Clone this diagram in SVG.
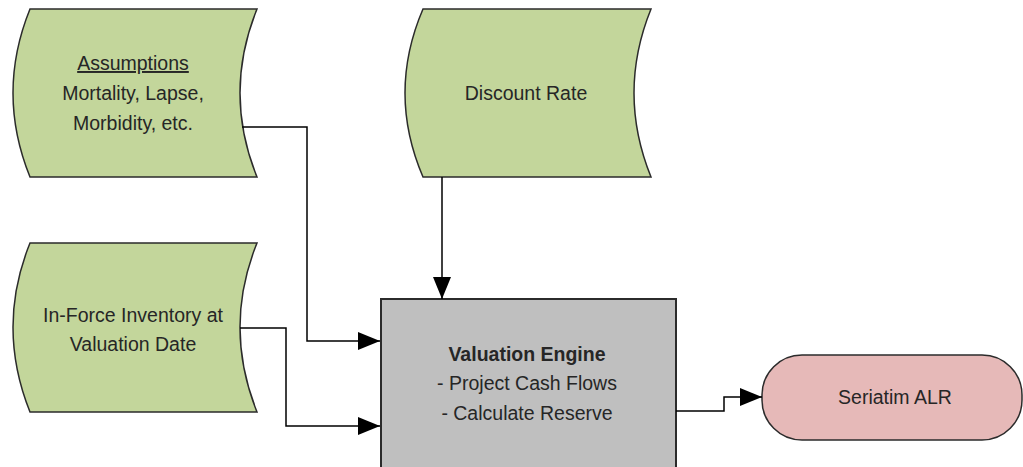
<svg xmlns="http://www.w3.org/2000/svg" width="1023" height="467" viewBox="0 0 1023 467">
<defs>
<style>
.green{fill:#c3d69b;stroke:#2b2b2b;stroke-width:1.5}
.grey{fill:#bfbfbf;stroke:#2b2b2b;stroke-width:2}
.pink{fill:#e6b9b8;stroke:#2b2b2b;stroke-width:1.5}
.t{font-family:"Liberation Sans",Arial,sans-serif;font-size:19.5px;fill:#262626;text-anchor:middle}
.b{font-weight:bold}
.c{fill:none;stroke:#000;stroke-width:1.5}
</style>
<marker id="ah" viewBox="0 0 22 18" refX="22" refY="9" markerWidth="22" markerHeight="18" markerUnits="userSpaceOnUse" orient="auto">
<path d="M0,0 L22,9 L0,18 Z" fill="#000"/>
</marker>
</defs>
<g id="assumptions">
<path class="green" d="M30,9 L257,9 Q223,93 257,177 L30,177 Q-4,93 30,9 Z"/>
<text class="t" x="133" y="70" text-decoration="underline">Assumptions</text>
<text class="t" x="133" y="100">Mortality, Lapse,</text>
<text class="t" x="133" y="130">Morbidity, etc.</text>
</g>
<g id="discount">
<path class="green" d="M423,9 L651,9 Q617,93 651,177 L423,177 Q387,93 423,9 Z"/>
<text class="t" x="526" y="100">Discount Rate</text>
</g>
<g id="inforce">
<path class="green" d="M30,243 L257,243 Q223,327 257,412 L30,412 Q-4,327 30,243 Z"/>
<text class="t" x="133" y="322">In-Force Inventory at</text>
<text class="t" x="133" y="351">Valuation Date</text>
</g>
<g id="engine">
<rect class="grey" x="381" y="299" width="295" height="175"/>
<text class="t b" x="527" y="361">Valuation Engine</text>
<text class="t" x="527" y="390">- Project Cash Flows</text>
<text class="t" x="527" y="420">- Calculate Reserve</text>
</g>
<g id="seriatim">
<rect class="pink" x="762" y="355" width="260" height="85" rx="40" ry="40"/>
<text class="t" x="895" y="404">Seriatim ALR</text>
</g>
<g id="connectors">
<path class="c" d="M242,127 H307 V341 H380" marker-end="url(#ah)"/>
<path class="c" d="M240,328 H286 V426 H380" marker-end="url(#ah)"/>
<path class="c" d="M442,177 V299" marker-end="url(#ah)"/>
<path class="c" d="M676,411 H724 V397 H762" marker-end="url(#ah)"/>
</g>
</svg>
